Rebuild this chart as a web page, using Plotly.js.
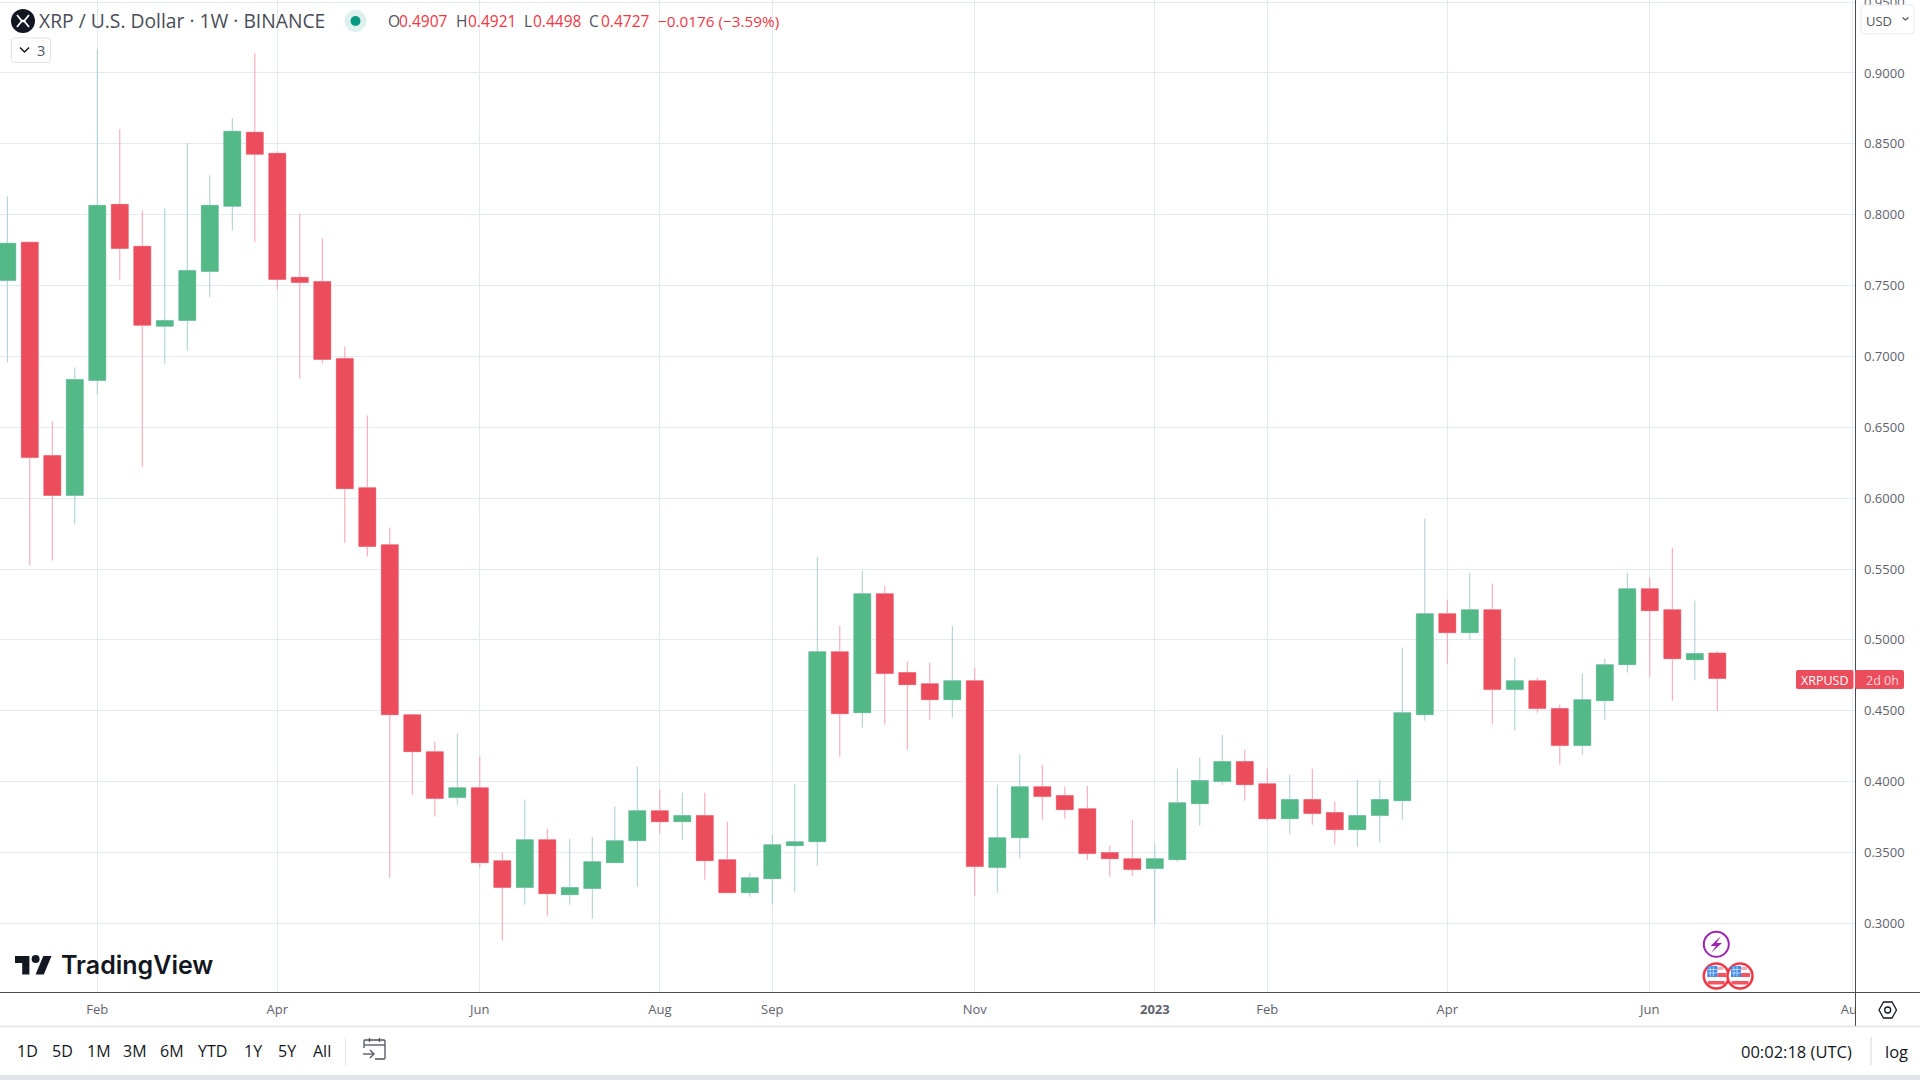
<!DOCTYPE html>
<html><head><meta charset="utf-8">
<style>html,body{margin:0;padding:0;background:#fff;overflow:hidden}#c{width:1920px;height:1080px}</style>
<script src="https://cdn.plot.ly/plotly-3.0.1.min.js"></script>
</head><body><div id="c"></div>
<script>
const weeks = ['2022-01-10','2022-01-17','2022-01-24','2022-01-31','2022-02-07','2022-02-14','2022-02-21','2022-02-28','2022-03-07','2022-03-14','2022-03-21','2022-03-28','2022-04-04','2022-04-11','2022-04-18','2022-04-25','2022-05-02','2022-05-09','2022-05-16','2022-05-23','2022-05-30','2022-06-06','2022-06-13','2022-06-20','2022-06-27','2022-07-04','2022-07-11','2022-07-18','2022-07-25','2022-08-01','2022-08-08','2022-08-15','2022-08-22','2022-08-29','2022-09-05','2022-09-12','2022-09-19','2022-09-26','2022-10-03','2022-10-10','2022-10-17','2022-10-24','2022-10-31','2022-11-07','2022-11-14','2022-11-21','2022-11-28','2022-12-05','2022-12-12','2022-12-19','2022-12-26','2023-01-02','2023-01-09','2023-01-16','2023-01-23','2023-01-30','2023-02-06','2023-02-13','2023-02-20','2023-02-27','2023-03-06','2023-03-13','2023-03-20','2023-03-27','2023-04-03','2023-04-10','2023-04-17','2023-04-24','2023-05-01','2023-05-08','2023-05-15','2023-05-22','2023-05-29','2023-06-05','2023-06-12','2023-06-19','2023-06-26'];
const opens = [0.7536,0.7806,0.6301,0.6019,0.6831,0.8073,0.7777,0.7213,0.7254,0.7599,0.8059,0.8582,0.8433,0.7558,0.7529,0.6986,0.6074,0.5672,0.4472,0.4211,0.3887,0.3957,0.3442,0.3252,0.3590,0.3202,0.3245,0.3428,0.3583,0.3795,0.3717,0.3760,0.3449,0.3216,0.3315,0.3548,0.3576,0.4917,0.4486,0.5326,0.4769,0.4691,0.4578,0.4712,0.3393,0.3604,0.3964,0.3901,0.3809,0.3499,0.3456,0.3386,0.3449,0.3844,0.4000,0.4141,0.3985,0.3738,0.3873,0.3781,0.3661,0.3760,0.3865,0.4472,0.5185,0.5051,0.5213,0.4649,0.4712,0.4515,0.4254,0.4571,0.4825,0.5361,0.5213,0.4860,0.4907];
const highs = [0.8129,0.7811,0.6541,0.6923,0.9168,0.8604,0.8030,0.8044,0.8504,0.8278,0.8681,0.9139,0.8448,0.8008,0.7833,0.7071,0.6583,0.5792,0.4479,0.4282,0.4338,0.4176,0.3499,0.3873,0.3668,0.3597,0.3611,0.3823,0.4105,0.3943,0.3922,0.3922,0.3717,0.3357,0.3626,0.3985,0.5587,0.5100,0.5488,0.5382,0.4846,0.4839,0.5100,0.4804,0.3978,0.4190,0.4119,0.3964,0.3971,0.3548,0.3731,0.3555,0.4091,0.4169,0.4331,0.4225,0.4091,0.4049,0.4091,0.3858,0.4014,0.4014,0.4945,0.5855,0.5284,0.5474,0.5397,0.4874,0.4733,0.4543,0.4762,0.4867,0.5474,0.5439,0.5651,0.5277,0.4921];
const lows = [0.6957,0.5525,0.5559,0.5814,0.6731,0.7543,0.6223,0.6950,0.7042,0.7417,0.7889,0.7806,0.7473,0.6845,0.6950,0.5685,0.5588,0.3322,0.3908,0.3753,0.3837,0.3393,0.2878,0.3132,0.3054,0.3132,0.3033,0.3425,0.3259,0.3633,0.3590,0.3308,0.3214,0.3188,0.3132,0.3216,0.3407,0.4176,0.4381,0.4402,0.4225,0.4437,0.4451,0.3195,0.3216,0.3456,0.3731,0.3738,0.3449,0.3329,0.3336,0.3000,0.3435,0.3689,0.3978,0.3865,0.3724,0.3626,0.3696,0.3555,0.3541,0.3569,0.3731,0.4430,0.4832,0.5001,0.4409,0.4359,0.4486,0.4119,0.4190,0.4437,0.4769,0.4740,0.4571,0.4719,0.4498];
const closes = [0.7799,0.6286,0.6019,0.6838,0.8066,0.7762,0.7220,0.7254,0.7607,0.8066,0.8589,0.8426,0.7543,0.7521,0.6979,0.6067,0.5659,0.4472,0.4211,0.3880,0.3957,0.3428,0.3252,0.3590,0.3209,0.3252,0.3435,0.3583,0.3795,0.3717,0.3760,0.3442,0.3216,0.3322,0.3555,0.3576,0.4917,0.4479,0.5326,0.4762,0.4684,0.4578,0.4712,0.3400,0.3604,0.3964,0.3894,0.3802,0.3492,0.3456,0.3379,0.3456,0.3851,0.4007,0.4141,0.3978,0.3738,0.3873,0.3774,0.3661,0.3760,0.3873,0.4486,0.5185,0.5051,0.5213,0.4649,0.4712,0.4515,0.4254,0.4578,0.4825,0.5361,0.5206,0.4867,0.4903,0.4727];
const priceTicks = [0.30,0.35,0.40,0.45,0.50,0.55,0.60,0.65,0.70,0.75,0.80,0.85,0.90,0.95];
const timeTickDates = ['2022-02-07','2022-04-04','2022-06-06','2022-08-01','2022-09-05','2022-11-07','2023-01-02','2023-02-06','2023-04-03','2023-06-05','2023-08-07'];
const timeTickLabels = ['Feb','Apr','Jun','Aug','Sep','Nov','<b>2023</b>','Feb','Apr','Jun','Aug'];
const rangeButtons = ['1D','5D','1M','3M','6M','YTD','1Y','5Y','All'];
const rangeButtonX = [27.5,62.5,98.8,135.3,171.7,212.7,253,287,322];

const W=1855, H=992;
const GREEN='#53b987', RED='#eb4d5c', GREEN_W='#a5cdd0', RED_W='#f7a1ae', GRID='#e1ebf1', TICK='#5f626d';
const TXT='Open Sans, sans-serif';
const px=x=>x/W, py=y=>(H-y)/H;
// convert a pixel-space path into paper coordinates
const P=s=>{let i=0;return s.replace(/-?\d+(\.\d+)?/g,m=>{const v=parseFloat(m);return (i++%2===0?px(v):py(v)).toFixed(6);});};
const pathShape=(s,o={})=>({type:'path',xref:'paper',yref:'paper',path:P(s),line:{color:o.color||'#131722',width:o.w===undefined?1.5:o.w},fillcolor:o.fill||'rgba(0,0,0,0)'});
const rect=(x0,y0,x1,y1,fill,line,w)=>({type:'rect',xref:'paper',yref:'paper',x0:px(x0),x1:px(x1),y0:py(y1),y1:py(y0),fillcolor:fill,line:{color:line||fill,width:line?(w||1):0}});
const circ=(cx,cy,r,fill,line,w)=>({type:'circle',xref:'paper',yref:'paper',x0:px(cx-r),x1:px(cx+r),y0:py(cy+r),y1:py(cy-r),fillcolor:fill,line:{color:line||fill,width:line?(w||1):0}});
const rrect=(x0,y0,x1,y1,r)=>`M${x0+r} ${y0} L${x1-r} ${y0} Q${x1} ${y0} ${x1} ${y0+r} L${x1} ${y1-r} Q${x1} ${y1} ${x1-r} ${y1} L${x0+r} ${y1} Q${x0} ${y1} ${x0} ${y1-r} L${x0} ${y0+r} Q${x0} ${y0} ${x0+r} ${y0} Z`;
const label=(text,x,y,size,color,anchor,family,weight)=>({text,x:px(x),y:py(y),xref:'paper',yref:'paper',showarrow:false,xanchor:anchor||'left',yanchor:'middle',borderpad:0,font:{size,color,family:family||TXT,weight:weight||400}});

const flag=(cx,cy)=>[
  circ(cx,cy,12.5,'#ffffff','#f23645',2.5),
  rect(cx+1,cy-9,cx+7,cy-6,'#f9a9b1'),
  rect(cx+1,cy-3,cx+10,cy+1,'#f6525f'),
  rect(cx-8.5,cy+5,cx+8.5,cy+8.5,'#f6525f'),
  rect(cx-9,cy-10,cx+1,cy+1,'#3f8ae8'),
  pathShape(`M${cx-6} ${cy-9.5} L${cx-6} ${cy+0.5} M${cx-3} ${cy-9.5} L${cx-3} ${cy+0.5} M${cx-8.5} ${cy-6.5} L${cx+0.5} ${cy-6.5} M${cx-8.5} ${cy-3} L${cx+0.5} ${cy-3}`,{color:'#b9d4f6',w:1})
];

const shapes=[
  // plot chrome
  rect(1856,993,1920,1026,'#ffffff'),
  pathShape('M0 992.5 L1920 992.5',{color:'#484b56',w:1}),
  pathShape('M1855.5 0 L1855.5 1026',{color:'#484b56',w:1}),
  pathShape('M0 1026.5 L1920 1026.5',{color:'#e0e3eb',w:1.5}),
  rect(0,1075,1920,1080,'#e0e3eb'),
  // header icon + status
  circ(23,21,12,'#131722'),
  pathShape('M17 15 L21 20 Q23 22 25 20 L29 15',{color:'#ffffff',w:1.8}),
  pathShape('M17 27 L21 22 Q23 20 25 22 L29 27',{color:'#ffffff',w:1.8}),
  circ(355.5,21,11,'#dff1ee'),
  circ(355.5,21,5,'#089981'),
  // hidden indicators button
  pathShape(rrect(11.5,38,50.5,62.5,3),{color:'#e0e3eb',w:1,fill:'#ffffff'}),
  pathShape('M20 47.5 L24.5 52 L29 47.5',{color:'#131722',w:1.5}),
  // currency button
  pathShape(rrect(1861,5,1914,34,4),{color:'#e8e9f0',w:1,fill:'#ffffff'}),
  pathShape('M1902.5 17.5 L1905.5 20 L1908.5 17.5',{color:'#50535e',w:1.2}),
  // last price tag
  pathShape(rrect(1796,670,1853.5,689,2),{color:RED,w:0,fill:RED}),
  pathShape(rrect(1855,670,1904,689,2),{color:RED,w:0,fill:RED}),
  // settings hexagon
  pathShape('M1879 1010 L1883.5 1002 L1892 1002 L1896.5 1010 L1892 1018 L1883.5 1018 Z',{w:1.3}),
  circ(1887.7,1010,3,'#ffffff','#131722',1.3),
  // TradingView logo
  pathShape('M29.4 974.4 L22.2 974.4 L22.2 963.1 L15 963.1 L15 956 L29.4 956 Z',{w:0,fill:'#131722'}),
  pathShape('M43.8 974.4 L35.6 974.4 L43.3 956 L51.5 956 Z',{w:0,fill:'#131722'}),
  circ(35.6,959.1,4,'#131722'),
  // bottom bar
  pathShape('M345.5 1037 L345.5 1065',{color:'#e0e3eb',w:1}),
  pathShape('M1871 1037 L1871 1065',{color:'#e0e3eb',w:1.5}),
  pathShape('M364 1048 L364 1041 Q364 1040 365 1040 L384 1040 Q385 1040 385 1041 L385 1058 Q385 1059 384 1059 L375 1059',{color:'#50535e',w:1.3}),
  pathShape('M364 1045 L385 1045',{color:'#50535e',w:1.3}),
  pathShape('M369.5 1038 L369.5 1042',{color:'#50535e',w:1.3}),
  pathShape('M379.5 1038 L379.5 1042',{color:'#50535e',w:1.3}),
  pathShape('M363 1054 L374 1054',{color:'#50535e',w:1.3}),
  pathShape('M370 1050 L374 1054 L370 1058',{color:'#50535e',w:1.3}),
  // event marks
  circ(1716.3,944.3,12.5,'#ffffff','#9c27b0',2),
  pathShape('M1721 936 L1710.5 946 L1716 946 L1711.5 952.5 L1722 943 L1716.5 943 Z',{w:0,fill:'#9c27b0'}),
  ...flag(1716.3,976),
  ...flag(1740,976)
];

const annotations=[
  label('XRP / U.S. Dollar · 1W · BINANCE',38,21,19.3,'#4a4d57'),
  label('O',386.5,21,15.5,'#50535e'),label('0.4907',398,21,15.5,'#f23645'),
  label('H',455,21,15.5,'#50535e'),label('0.4921',467,21,15.5,'#f23645'),
  label('L',523,21,15.5,'#50535e'),label('0.4498',532,21,15.5,'#f23645'),
  label('C',588,21,15.5,'#50535e'),label('0.4727',599.5,21,15.5,'#f23645'),
  label('−0.0176 (−3.59%)',656.5,21,15.3,'#f23645'),
  label('3',36,50,14.5,'#50535e'),
  label('USD',1865,21,13,'#50535e'),
  label('XRPUSD',1824.5,680,12.5,'#ffffff','center'),
  label('2d 0h',1882,680,12.5,'#fbd5da','center'),
  label('TradingView',60.2,965,25,'#131722','left','Inter, sans-serif',600),
  label('00:02:18 (UTC)',1740,1051,16.5,'#131722'),
  label('log',1884,1051,16.5,'#131722'),
  ...rangeButtons.map((t,i)=>label(t,rangeButtonX[i],1051,16,'#131722','center'))
];

const data=[
 {type:'candlestick',x:weeks,open:opens,high:highs,low:lows,close:closes,
  increasing:{line:{color:GREEN_W,width:1},fillcolor:GREEN},
  decreasing:{line:{color:RED_W,width:1},fillcolor:RED},
  hoverinfo:'skip',showlegend:false},
 {type:'candlestick',x:weeks,open:opens,close:closes,
  high:opens.map((o,i)=>Math.max(o,closes[i])),low:opens.map((o,i)=>Math.min(o,closes[i])),
  increasing:{line:{color:GREEN,width:0},fillcolor:GREEN},
  decreasing:{line:{color:RED,width:0},fillcolor:RED},
  hoverinfo:'skip',showlegend:false}
];

const layout={
  width:1920,height:1080,autosize:false,
  margin:{l:0,r:65,t:0,b:88,pad:0},
  paper_bgcolor:'#ffffff',plot_bgcolor:'#ffffff',showlegend:false,boxgap:0.244,boxgroupgap:0,boxmode:'overlay',
  xaxis:{type:'date',range:['2022-01-07 17:30','2023-08-07 20:00'],rangeslider:{visible:false},
    tickmode:'array',tickvals:timeTickDates,ticktext:timeTickLabels,
    showgrid:true,gridcolor:GRID,gridwidth:1,zeroline:false,showline:false,ticks:'',
    tickangle:0,ticklabelstandoff:8,tickfont:{family:TXT,size:13,color:TICK}},
  yaxis:{side:'right',range:[0.25153,0.9515],tickmode:'array',tickvals:priceTicks,tickformat:'.4f',
    showgrid:true,gridcolor:GRID,gridwidth:1,zeroline:false,showline:false,ticks:'',ticklabeloverflow:'allow',
    ticklabelstandoff:8,tickfont:{family:TXT,size:13,color:TICK}},
  shapes,annotations
};
Plotly.newPlot('c',data,layout,{displayModeBar:false,staticPlot:true});
</script></body></html>
